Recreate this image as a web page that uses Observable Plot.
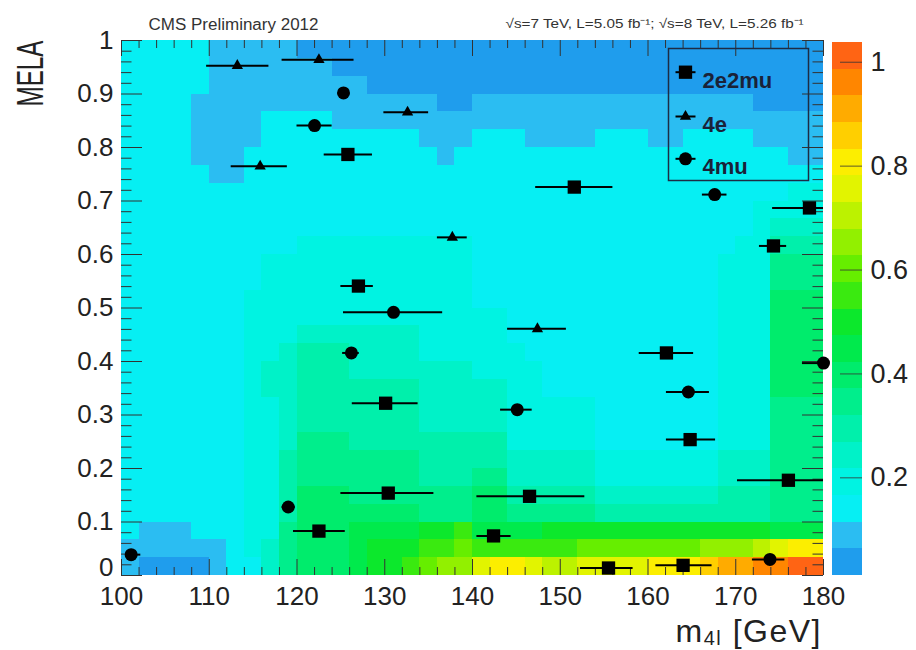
<!DOCTYPE html>
<html><head><meta charset="utf-8">
<script src="https://cdn.jsdelivr.net/npm/d3@7"></script>
<script src="https://cdn.jsdelivr.net/npm/@observablehq/plot@0.6"></script>
<style>
html,body{margin:0;padding:0;background:#fff;}
#wrap{position:relative;width:916px;height:650px;overflow:hidden;font-family:"Liberation Sans",Arial,sans-serif;}
#wrap svg{position:absolute;top:0;}
</style></head><body><div id="wrap"></div>
<script>
// ---------------- data ----------------
// heat-map levels (0..19, base-36 digits), rows from MELA top (1.0) to bottom (0.0),
// columns m4l 100..180 GeV in 2 GeV bins (spaces only group columns)
const melaLevelRows = [
  "2 222 21 11 11 000 0000 000 00 00000 000 0000 000 000",
  "2 222 21 11 11 110 0000 000 00 00000 000 0000 000 000",
  "2 222 21 11 11 111 1000 000 00 00000 000 0000 000 000",
  "2 222 11 11 11 111 1111 100 11 11111 111 1111 110 000",
  "2 222 11 11 22 221 1111 111 11 11111 111 1111 111 111",
  "2 222 11 11 22 222 2222 111 22 21111 222 1122 221 111",
  "2 222 11 12 22 222 2222 212 22 22222 222 2222 222 211",
  "2 222 21 12 22 222 2222 222 22 22222 222 2222 222 222",
  "2 222 22 22 22 222 2222 222 22 22222 222 2222 222 233",
  "2 222 22 22 22 222 2222 222 22 22222 222 2222 223 333",
  "2 222 22 22 22 222 2222 222 22 22222 222 2222 223 444",
  "2 222 22 22 22 333 3333 333 22 22222 222 2222 233 555",
  "2 222 22 22 33 333 3333 333 22 22222 222 2222 333 666",
  "2 222 22 22 33 333 3333 333 22 22222 222 2222 333 666",
  "2 222 22 23 33 333 3333 333 22 22222 222 2222 333 777",
  "2 222 22 23 33 333 3333 333 33 22222 222 2222 333 777",
  "2 222 22 23 33 444 4444 333 33 22222 222 2222 333 777",
  "2 222 22 23 34 555 4444 333 33 32222 222 2222 333 777",
  "2 222 22 23 44 555 4444 444 33 33222 222 2222 333 777",
  "2 222 22 23 44 555 5555 444 44 33222 222 2222 333 777",
  "2 222 22 23 34 555 5555 444 44 33333 222 2222 333 666",
  "2 222 22 23 34 555 5555 444 44 33333 222 2222 333 666",
  "2 222 22 23 34 666 5555 555 55 33333 222 2222 333 666",
  "2 222 22 23 35 666 6666 555 55 44444 333 3333 444 666",
  "2 222 22 23 35 666 6666 555 66 44444 333 3333 444 666",
  "2 222 22 23 35 777 6666 666 77 55555 444 4444 555 666",
  "2 222 22 23 35 777 7777 666 77 66666 555 5555 555 666",
  "2 111 22 23 36 777 8888 99a 88 88999 999 9999 999 888",
  "1 111 11 23 46 777 8999 aab aa aaaab bbb bbbc ccd eff",
  "1 000 01 22 46 777 899a bcc ef fedde eee fffg hhi ijj"
];
const massRange = [100, 180];
const melaRange = [0, 1];
const zMin = 0.012, zMax = 1.038;
const levelColors = [
  "#1f9ded","#2bbdf2","#06eff3","#00f3e2","#00f2c8","#00f0ab","#00ee8c","#00ec6c",
  "#00ea4c","#0ce82c","#3aea10","#66ee00","#92f000","#bcf200","#e2f400","#fcee00",
  "#ffcf00","#ffab00","#ff8600","#ff6414"
];

// points: [m4l, MELA, m4l low, m4l high]
const pts2e2mu = [
  [125.8,0.787,123.1,128.6],[127.0,0.541,125.0,128.7],[130.1,0.322,126.3,133.8],
  [130.4,0.154,125.0,135.6],[122.5,0.083,119.6,125.5],[151.6,0.726,147.2,156.0],
  [178.4,0.687,174.2,180.0],[174.3,0.616,172.7,175.8],[162.1,0.416,159.0,165.2],
  [164.8,0.254,162.1,167.7],[176.0,0.178,170.2,180.0],[146.5,0.148,140.5,152.8],
  [142.4,0.074,140.5,144.4],[155.5,0.014,152.3,158.3],[164.0,0.019,160.9,167.3]
];
const pts4e = [
  [113.2,0.953,109.7,116.8],[122.5,0.964,118.3,126.5],[132.6,0.866,129.9,135.0],
  [115.8,0.765,112.5,118.9],[137.7,0.632,136.0,139.4],[147.4,0.461,144.0,150.7]
];
const pts4mu = [
  [125.3,0.902,124.7,125.9],[122.0,0.841,120.0,124.0],[131.0,0.492,125.3,136.6],
  [126.2,0.416,125.2,127.1],[119.0,0.128,118.3,119.8],[101.1,0.039,100.5,102.2],
  [167.6,0.712,166.2,169.0],[145.1,0.310,143.2,146.8],[164.6,0.343,162.1,167.0],
  [180.0,0.397,177.6,180.0],[173.9,0.030,171.9,175.6]
];
const seriesNames = ["2e2mu", "4e", "4mu"];
const xTickLabels = [100,110,120,130,140,150,160,170,180];
const yTickLabels = [0,0.1,0.2,0.3,0.4,0.5,0.6,0.7,0.8,0.9,1];
const zTickLabels = [0.2,0.4,0.6,0.8,1];

// ---------------- build ----------------
const W = 916, H = 650, mL = 121, mR = 93, mT = 40, mB = 75;
const pw = W - mL - mR, ph = H - mT - mB;
const FONT = "Liberation Sans, Arial, sans-serif";
const nL = levelColors.length, step = (zMax - zMin) / nL;
const nRows = melaLevelRows.length;
const cells = melaLevelRows.flatMap((row, r) => {
  const s = row.replace(/ /g, "");
  const nCols = s.length;
  const dx = (massRange[1] - massRange[0]) / nCols, dy = (melaRange[1] - melaRange[0]) / nRows;
  const j = nRows - 1 - r;
  return [...s].map((c, i) => ({
    x1: massRange[0] + i * dx, x2: massRange[0] + (i + 1) * dx,
    y1: j * dy, y2: (j + 1) * dy,
    z: zMin + (parseInt(c, 36) + 0.5) * step
  }));
});
const thresholds = d3.range(1, nL).map(k => zMin + k * step);
const colorScale = {type: "threshold", domain: thresholds, range: levelColors};
const toObj = a => a.map(([m, v, lo, hi]) => ({m, v, lo, hi}));
const xMinor = d3.range(massRange[0], massRange[1] + 1, 2).filter(v => v % 10 !== 0);
const yMinor = d3.range(0, 51).map(k => k / 50).filter(v => Math.abs(v * 10 - Math.round(v * 10)) > 1e-6);
const tickCol = "#333";
const hline = {draw(ctx) { ctx.moveTo(-10, 0); ctx.lineTo(10, 0); }};
const symbols = {"2e2mu": ["square", 7.5], "4e": ["triangle", 4.2], "4mu": ["circle", 6.5]};
const data = {"2e2mu": toObj(pts2e2mu), "4e": toObj(pts4e), "4mu": toObj(pts4mu)};
const legendDy = [31.7, 76, 118.3];

const marks = [
  Plot.rect(cells, {x1: "x1", x2: "x2", y1: "y1", y2: "y2", fill: "z", shapeRendering: "crispEdges"}),
  Plot.ruleX(xTickLabels, {x: d => d, insetTop: ph - 16, stroke: tickCol}),
  Plot.ruleX(xMinor, {x: d => d, insetTop: ph - 8, stroke: tickCol}),
  Plot.ruleX(xTickLabels, {x: d => d, insetBottom: ph - 16, stroke: tickCol}),
  Plot.ruleX(xMinor, {x: d => d, insetBottom: ph - 8, stroke: tickCol}),
  Plot.ruleY(yTickLabels, {y: d => d, insetRight: pw - 21, stroke: tickCol}),
  Plot.ruleY(yMinor, {y: d => d, insetRight: pw - 10.5, stroke: tickCol}),
  Plot.ruleY(yTickLabels, {y: d => d, insetLeft: pw - 21, stroke: tickCol}),
  Plot.ruleY(yMinor, {y: d => d, insetLeft: pw - 10.5, stroke: tickCol}),
  // y tick labels (the "0" sits a little higher, as in the reference)
  Plot.text(yTickLabels.filter(d => d > 0), {y: d => d, text: d => String(d), frameAnchor: "left", dx: -8, textAnchor: "end", fontSize: 26, fill: "#222"}),
  Plot.text(yTickLabels.filter(d => d === 0), {y: d => d, text: d => String(d), frameAnchor: "left", dx: -8, dy: -8, textAnchor: "end", fontSize: 26, fill: "#222"})
];
for (const name of seriesNames) {
  const [sym, r] = symbols[name];
  marks.push(Plot.ruleY(data[name], {y: "v", x1: "lo", x2: "hi", stroke: "black", strokeWidth: 2}));
  marks.push(Plot.dot(data[name], {x: "m", y: "v", symbol: sym, r, fill: "black", stroke: "none"}));
}
// legend
marks.push(Plot.frame({insetLeft: 547, insetRight: 15, insetTop: 8, insetBottom: 395, stroke: "#1d2c44", strokeWidth: 1.5}));
seriesNames.forEach((name, k) => {
  const [sym, r] = symbols[name];
  marks.push(Plot.dot([name], {frameAnchor: "top-right", dx: -138, dy: legendDy[k], symbol: hline, stroke: "black", strokeWidth: 2, fill: "none"}));
  marks.push(Plot.dot([name], {frameAnchor: "top-right", dx: -138, dy: legendDy[k], symbol: sym, r, fill: "black", stroke: "none"}));
  marks.push(Plot.text([name], {frameAnchor: "top-right", dx: -121, dy: legendDy[k], text: d => d, textAnchor: "start", fontSize: 22, fontWeight: "bold", fill: "#1a2238"}));
});
// titles
marks.push(Plot.text(["CMS Preliminary 2012"], {frameAnchor: "top-left", dx: 27, dy: -22, text: d => d, textAnchor: "start", fontSize: 16, fill: "#333"}));
marks.push(Plot.text(["\u221As=7 TeV, L=5.05 fb\u207B\u00B9; \u221As=8 TeV, L=5.26 fb\u207B\u00B9"], {frameAnchor: "top-left", dx: 384, dy: -22, text: d => d, textAnchor: "start", fontSize: 13, fill: "#333"}));
marks.push(Plot.text(["MELA"], {frameAnchor: "top-left", dx: -104, dy: 0, rotate: -90, text: d => d, textAnchor: "end", fontSize: 36, fill: "#222"}));

const main = Plot.plot({
  width: W, height: H, marginLeft: mL, marginRight: mR, marginTop: mT, marginBottom: mB,
  style: {fontFamily: FONT, fontSize: "26px", color: "#222", background: "transparent", overflow: "visible"},
  x: {domain: massRange, ticks: xTickLabels, tickSize: 0, tickPadding: 11, label: null, tickFormat: d => String(d)},
  y: {domain: melaRange, axis: null},
  color: colorScale,
  marks
});
main.style.left = "0px";
const svgSel = d3.select(main);
const fitText = (str, len) => svgSel.selectAll("text").filter(function() { return this.textContent === str; })
  .attr("textLength", len).attr("lengthAdjust", "spacingAndGlyphs");
fitText("MELA", 66);
fitText("CMS Preliminary 2012", 170);
fitText("\u221As=7 TeV, L=5.05 fb\u207B\u00B9; \u221As=8 TeV, L=5.26 fb\u207B\u00B9", 298);
// x-axis title with subscript
const t = svgSel.append("text").attr("x", 822).attr("y", 642).attr("text-anchor", "end")
  .attr("font-size", 32).attr("letter-spacing", "1.5px").attr("fill", "#222").attr("font-family", FONT);
t.append("tspan").text("m");
t.append("tspan").attr("dy", 3).attr("font-size", 20).text("4l");
t.append("tspan").attr("dy", -3).text(" [GeV]");

// colour bar
const bands = d3.range(nL).map(k => ({y1: zMin + k * step, y2: zMin + (k + 1) * step, z: zMin + (k + 0.5) * step}));
const cb = Plot.plot({
  width: 90, height: H, marginLeft: 6, marginRight: 54, marginTop: 42, marginBottom: mB,
  style: {fontFamily: FONT, fontSize: "27px", color: "#222", background: "transparent", overflow: "visible"},
  x: {domain: [0, 1], axis: null},
  y: {domain: [zMin, zMax], axis: "right", ticks: zTickLabels, tickSize: 0, tickPadding: 8, label: null, tickFormat: d => String(d)},
  color: colorScale,
  marks: [
    Plot.rect(bands, {x1: 0, x2: 1, y1: "y1", y2: "y2", fill: "z", shapeRendering: "crispEdges"}),
    Plot.ruleY(zTickLabels, {y: d => d, insetLeft: 8, stroke: "#333", strokeOpacity: 0.8})
  ]
});
cb.style.left = "826px";
const wrap = document.getElementById("wrap");
wrap.appendChild(main);
wrap.appendChild(cb);
</script></body></html>
